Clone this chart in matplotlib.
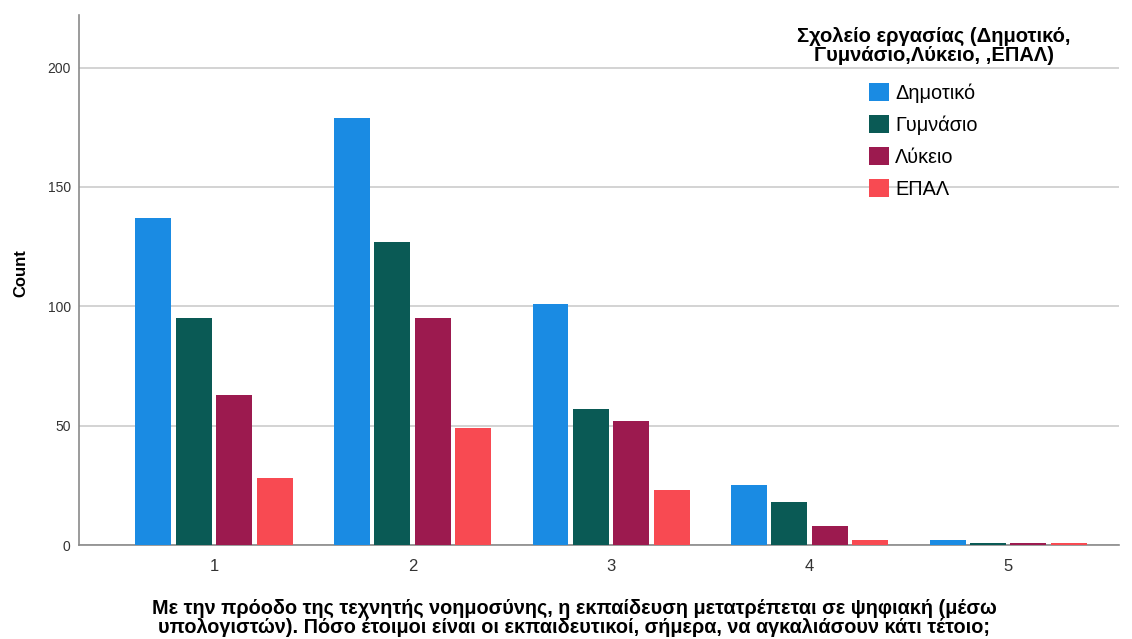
import matplotlib
matplotlib.use("Agg")
import matplotlib.pyplot as plt
import numpy as np
from matplotlib.patches import Patch

categories = ["1", "2", "3", "4", "5"]
series_names = ["Δημοτικό", "Γυμνάσιο", "Λύκειο", "ΕΠΑΛ"]
dimotiko = [137, 179, 101, 25, 2]
gymnasio = [95, 127, 57, 18, 1]
lykeio = [63, 95, 52, 8, 1]
epal = [28, 49, 23, 2, 1]
series_values = [dimotiko, gymnasio, lykeio, epal]
colors = ["#1a8be3", "#0a5a55", "#9c1a4f", "#f84a52"]
yticks = [0, 50, 100, 150, 200]

legend_title = "Σχολείο εργασίας (Δημοτικό,\nΓυμνάσιο,Λύκειο, ,ΕΠΑΛ)"
xlabel = ("Με την πρόοδο της τεχνητής νοημοσύνης, η εκπαίδευση μετατρέπεται σε ψηφιακή (μέσω\n"
          "υπολογιστών). Πόσο έτοιμοι είναι οι εκπαιδευτικοί, σήμερα, να αγκαλιάσουν κάτι τέτοιο;")

plt.rcParams["font.family"] = ["Liberation Sans", "DejaVu Sans"]

fig = plt.figure(figsize=(11.32, 6.39), dpi=100)
ax = fig.add_axes([0.0698, 0.147, 0.919, 0.8295])

x = np.arange(1, len(categories) + 1)
width = 0.181
pitch = 0.2035
for i, (vals, col) in enumerate(zip(series_values, colors)):
    offs = (i - 1.5) * pitch
    ax.bar(x + offs, vals, width=width, color=col, zorder=3)

ax.set_xlim(0.32, 5.56)
ax.set_ylim(0, 222)
ax.set_yticks(yticks)
ax.set_yticklabels([str(t) for t in yticks], fontsize=10, color="#333333")
ax.set_xticks(x)
ax.set_xticklabels(categories, fontsize=12, color="#333333")
ax.tick_params(axis="x", length=0, pad=10)
ax.tick_params(axis="y", length=0, pad=6)

ax.yaxis.grid(True, color="#c8c8c8", linewidth=1.1, zorder=0)
ax.set_axisbelow(True)
for s in ["top", "right"]:
    ax.spines[s].set_visible(False)
for s in ["left", "bottom"]:
    ax.spines[s].set_color("#8a8a8a")
    ax.spines[s].set_linewidth(1.2)

ax.set_ylabel("Count", fontsize=12, fontweight="bold")
ax.yaxis.set_label_coords(-0.049, 0.513)
ax.set_xlabel(xlabel, fontsize=14.3, fontweight="bold", linespacing=1.0,
              family=["Liberation Sans Narrow", "Liberation Sans", "DejaVu Sans"])
ax.xaxis.set_label_coords(0.476, -0.101)

# legend title drawn as its own text so the entries can sit slightly left of it
ax.text(0.822, 0.978, legend_title, transform=ax.transAxes, ha="center", va="top",
        fontsize=14.5, fontweight="bold", linespacing=1.0, multialignment="center")

handles = [Patch(facecolor=c, edgecolor="none") for c in colors]
ax.legend(handles, series_names, frameon=False,
          loc="upper left", bbox_to_anchor=(0.7598, 0.871),
          fontsize=14.3, borderpad=0, borderaxespad=0,
          handlelength=1.0, handleheight=1.0, handletextpad=0.3,
          labelspacing=0.62)

fig.savefig("out.png", dpi=100)
